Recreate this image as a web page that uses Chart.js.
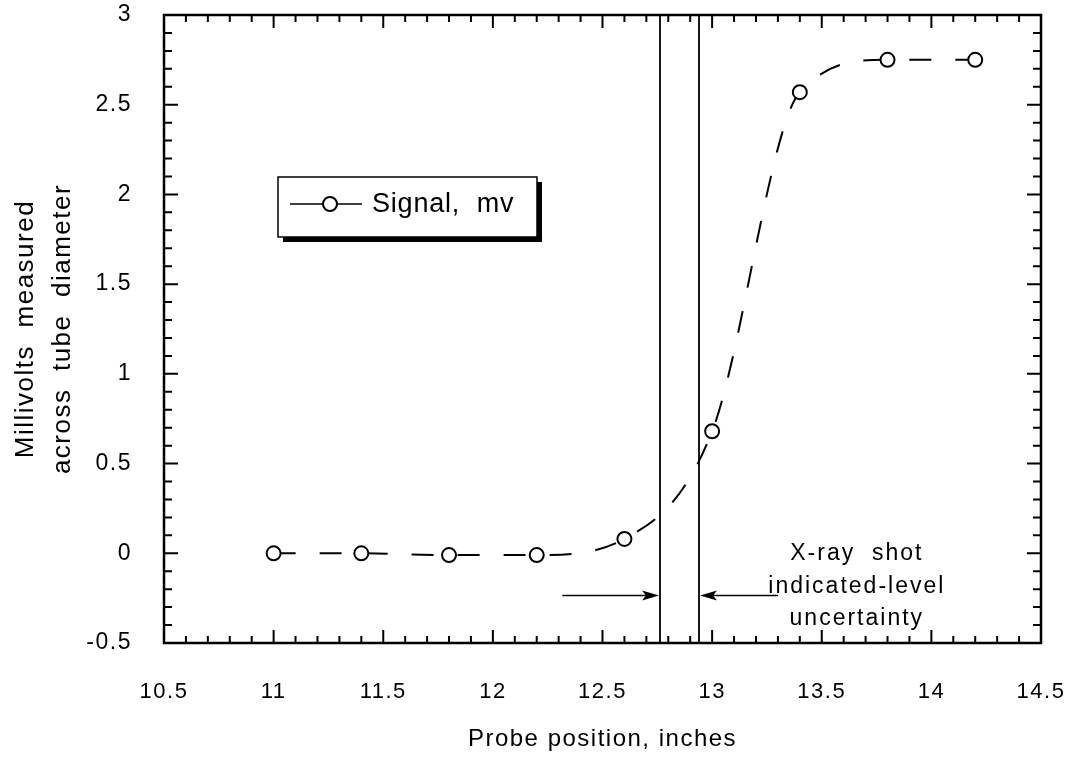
<!DOCTYPE html>
<html>
<head>
<meta charset="utf-8">
<script src="https://cdn.jsdelivr.net/npm/chart.js@4.4.0/dist/chart.umd.min.js"></script>
<style>
  html, body { margin: 0; padding: 0; background: #fff; }
  #wrap { width: 1074px; height: 780px; }
</style>
</head>
<body>
<div id="wrap"><canvas id="myChart"></canvas></div>
<script>
// values
const positions = [11, 11.4, 11.8, 12.2, 12.6, 13.0, 13.4, 13.8, 14.2]
const signal = [0, 0, -0.01, -0.01, 0.08, 0.68, 2.57, 2.75, 2.75]
const xTicks = [10.5, 11, 11.5, 12, 12.5, 13, 13.5, 14, 14.5]
const yTicks = [-0.5, 0, 0.5, 1, 1.5, 2, 2.5, 3]
const bandEdges = [12.76, 12.94]
const noteLines = ['X-ray  shot', 'indicated-level', 'uncertainty']

const family = '"Liberation Sans", Arial, Helvetica, sans-serif'

function spacing(chart) {
  chart.ctx.letterSpacing = '1.5px'
}

// frame, inward ticks, band lines, arrows, note and legend box
const extras = {
  id: 'extras',
  beforeLayout: spacing,
  beforeDraw: spacing,
  beforeDatasetsDraw(chart) {
    const { ctx, chartArea: a, scales: { x } } = chart
    ctx.save()
    ctx.strokeStyle = '#000'
    ctx.lineWidth = 1.8
    bandEdges.forEach(v => {
      const px = Math.round(x.getPixelForValue(v))
      ctx.beginPath()
      ctx.moveTo(px, a.top)
      ctx.lineTo(px, a.bottom)
      ctx.stroke()
    })
    ctx.restore()
  },
  afterDraw(chart) {
    const { ctx, chartArea: a, scales: { x, y } } = chart
    ctx.save()
    ctx.strokeStyle = '#000'
    ctx.fillStyle = '#000'

    // ticks
    ctx.lineWidth = 2
    for (let i = 0; i <= 40; i++) {
      const px = x.getPixelForValue(10.5 + i * 0.1)
      const len = i % 5 === 0 ? 13 : 7
      ctx.beginPath()
      ctx.moveTo(px, a.bottom); ctx.lineTo(px, a.bottom - len)
      ctx.moveTo(px, a.top); ctx.lineTo(px, a.top + len)
      ctx.stroke()
    }
    for (let i = 0; i <= 35; i++) {
      const py = y.getPixelForValue(-0.5 + i * 0.1)
      const len = i % 5 === 0 ? 14 : 8
      ctx.beginPath()
      ctx.moveTo(a.left, py); ctx.lineTo(a.left + len, py)
      ctx.moveTo(a.right, py); ctx.lineTo(a.right - len, py)
      ctx.stroke()
    }

    // frame
    ctx.lineWidth = 2.5
    ctx.strokeRect(a.left, a.top, a.right - a.left, a.bottom - a.top)

    // arrows pointing at the band
    const ay = y.getPixelForValue(-0.235)
    const arrow = (fromV, toV) => {
      const x1 = x.getPixelForValue(fromV)
      const x2 = Math.round(x.getPixelForValue(toV)) + (fromV < toV ? -1 : 1)
      const dir = fromV < toV ? 1 : -1
      ctx.lineWidth = 1.5
      ctx.beginPath()
      ctx.moveTo(x1, ay); ctx.lineTo(x2 - dir * 10, ay)
      ctx.stroke()
      ctx.beginPath()
      ctx.moveTo(x2, ay)
      ctx.lineTo(x2 - dir * 17, ay - 5)
      ctx.lineTo(x2 - dir * 13, ay)
      ctx.lineTo(x2 - dir * 17, ay + 5)
      ctx.closePath()
      ctx.fill()
    }
    arrow(12.317, bandEdges[0])
    arrow(13.30, bandEdges[1])

    // note text
    ctx.letterSpacing = '2px'
    ctx.font = '23px ' + family
    ctx.textAlign = 'center'
    ctx.textBaseline = 'middle'
    const noteY = [0.0, -0.184, -0.362]
    noteLines.forEach((t, i) => {
      ctx.fillText(t, x.getPixelForValue(13.66), y.getPixelForValue(noteY[i]))
    })

    // legend box
    const bx = a.left + 114, by = a.top + 162, bw = 259, bh = 60
    ctx.fillRect(bx + 5, by + 5, bw, bh)
    ctx.fillStyle = '#fff'
    ctx.fillRect(bx, by, bw, bh)
    ctx.lineWidth = 1.5
    ctx.strokeRect(bx, by, bw, bh)
    const ly = by + 27
    ctx.lineWidth = 1.5
    ctx.beginPath()
    ctx.moveTo(bx + 12, ly); ctx.lineTo(bx + 45, ly)
    ctx.moveTo(bx + 59, ly); ctx.lineTo(bx + 84, ly)
    ctx.stroke()
    ctx.lineWidth = 2
    ctx.beginPath()
    ctx.arc(bx + 52, ly, 7, 0, Math.PI * 2)
    ctx.fill()
    ctx.stroke()
    ctx.fillStyle = '#000'
    ctx.letterSpacing = '0.8px'
    ctx.font = '27px ' + family
    ctx.textAlign = 'left'
    ctx.fillText(chart.data.datasets[0].label, bx + 94, ly + 1)
    ctx.restore()
  }
}

const ctx = document.getElementById('myChart')

new Chart(ctx, {
  type: 'line',
  data: {
    datasets: [{
      label: 'Signal,  mv',
      data: positions.map((p, i) => ({ x: p, y: signal[i] })),
      borderColor: '#000',
      borderWidth: 2,
      borderDash: [22, 24],
      cubicInterpolationMode: 'monotone',
      pointRadius: 7,
      pointBorderWidth: 2,
      pointBorderColor: '#000',
      pointBackgroundColor: '#fff',
      fill: false
    }]
  },
  options: {
    responsive: true,
    maintainAspectRatio: false,
    animation: false,
    layout: { padding: { top: 15, right: 33, left: 0, bottom: 0 } },
    plugins: {
      legend: { display: false },
      tooltip: { enabled: false }
    },
    scales: {
      x: {
        type: 'linear',
        min: 10.5,
        max: 14.5,
        afterBuildTicks: s => { s.ticks = xTicks.map(v => ({ value: v })) },
        afterFit: s => { s.height = 137; s.paddingLeft = 0; s.paddingRight = 0 },
        grid: { display: false, drawTicks: false },
        border: { display: false },
        ticks: {
          padding: 36,
          color: '#000',
          autoSkip: false,
          maxRotation: 0,
          font: { size: 22, family: family },
          callback: v => String(v)
        },
        title: {
          display: true,
          text: 'Probe position, inches',
          color: '#000',
          font: { size: 24, family: family },
          padding: { top: 0, bottom: 26 }
        }
      },
      y: {
        type: 'linear',
        min: -0.5,
        max: 3,
        afterBuildTicks: s => { s.ticks = yTicks.map(v => ({ value: v })) },
        afterFit: s => { s.width = 164; s.paddingTop = 0; s.paddingBottom = 0 },
        grid: { display: false, drawTicks: false },
        border: { display: false },
        ticks: {
          padding: 32,
          color: '#000',
          autoSkip: false,
          font: { size: 23, family: family },
          callback: v => String(v)
        },
        title: {
          display: true,
          text: ['Millivolts  measured', 'across  tube  diameter'],
          color: '#000',
          font: { size: 26, family: family, lineHeight: 1.42 },
          padding: { top: 7, bottom: 0 }
        }
      }
    }
  },
  plugins: [extras]
})
</script>
</body>
</html>
